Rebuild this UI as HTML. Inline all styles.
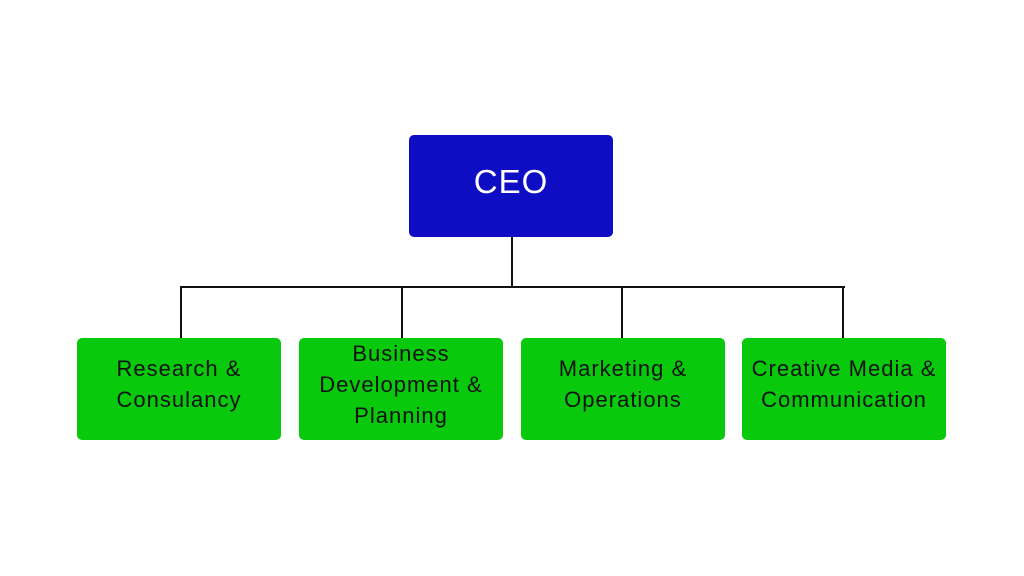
<!DOCTYPE html>
<html><head><style>
body{margin:0;width:1024px;height:576px;background:#fff;position:relative;overflow:hidden;font-family:"Liberation Sans",sans-serif}
.b{position:absolute;border-radius:5px;display:flex;align-items:center;justify-content:center;text-align:center;box-sizing:border-box}
.g{background:#08c90b;color:#111;font-size:22px;letter-spacing:1px;line-height:31px;top:338px;width:204px;height:102px;padding-bottom:10px;white-space:nowrap}
.c{background:#0e0dc4;color:#fff;font-size:33px;letter-spacing:1px;left:409px;top:135px;width:204px;height:102px;padding-bottom:8px}
.l{position:absolute;background:#111}
</style></head><body>
<div class="l" style="left:511px;top:237px;width:2px;height:51px"></div>
<div class="l" style="left:180px;top:286px;width:665px;height:2px"></div>
<div class="l" style="left:180px;top:286px;width:2px;height:52px"></div>
<div class="l" style="left:401px;top:286px;width:2px;height:52px"></div>
<div class="l" style="left:621px;top:286px;width:2px;height:52px"></div>
<div class="l" style="left:842px;top:286px;width:2px;height:52px"></div>
<div class="b c">CEO</div>
<div class="b g" style="left:77px">Research &amp;<br>Consulancy</div>
<div class="b g" style="left:299px">Business<br>Development &amp;<br>Planning</div>
<div class="b g" style="left:521px">Marketing &amp;<br>Operations</div>
<div class="b g" style="left:742px">Creative Media &amp;<br>Communication</div>
</body></html>
